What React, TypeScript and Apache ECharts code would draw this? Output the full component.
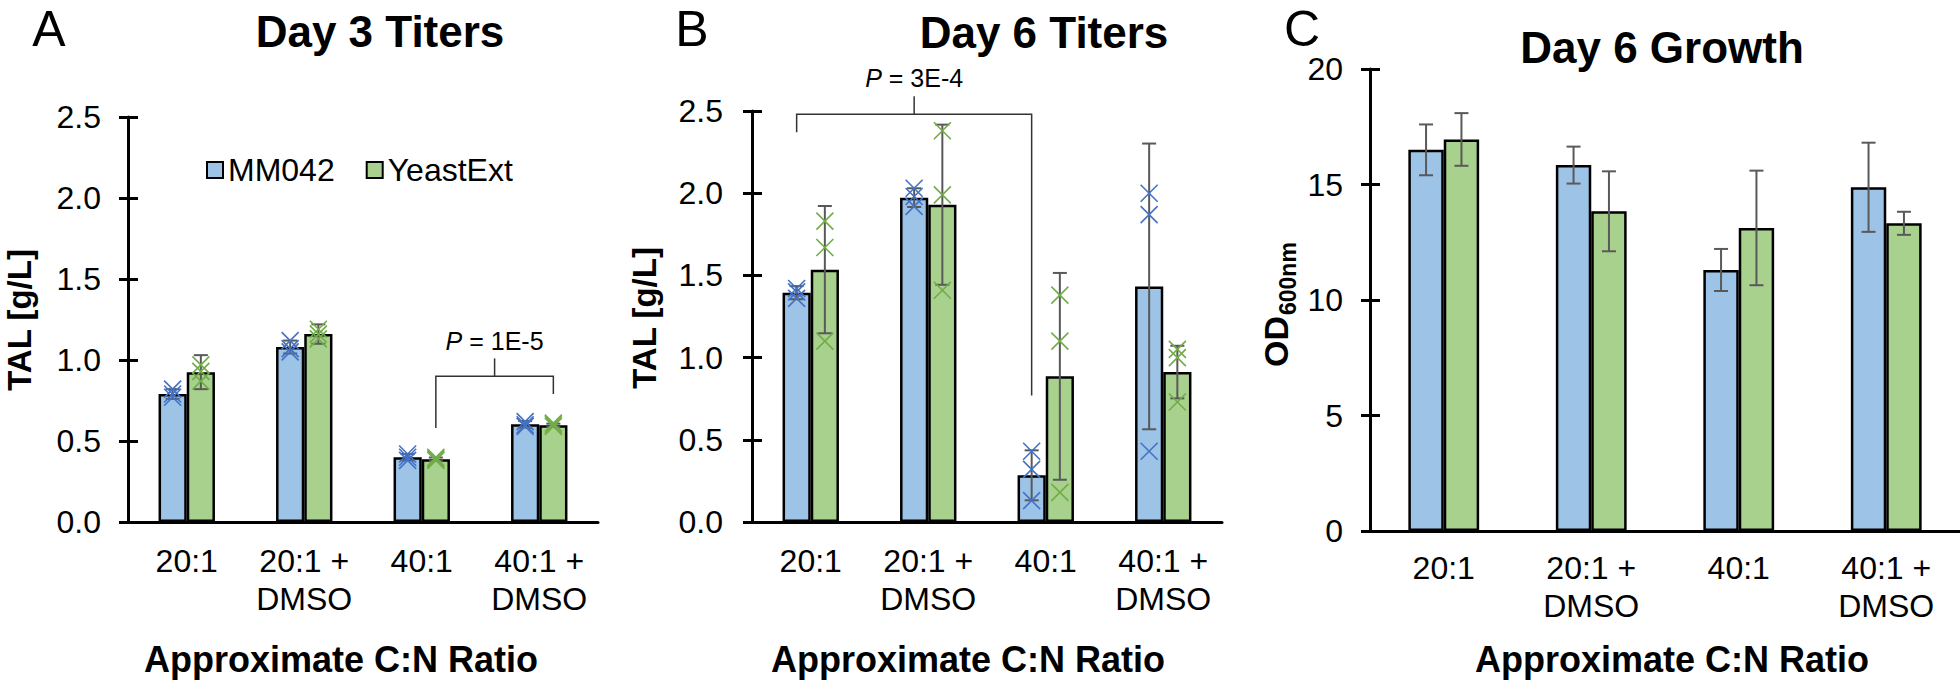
import React, { useEffect, useRef } from 'react';
import * as echarts from 'echarts';

const FONT = '"Liberation Sans", Arial, Helvetica, sans-serif';

const categories = ['20:1', '20:1 +\nDMSO', '40:1', '40:1 +\nDMSO'];
const seriesNames = ['MM042', 'YeastExt'];
const barColors = ['#9DC3E6', '#A9D18E'];
const markerColors = ['#4472C4', '#70AD47'];

// Panel A: Day 3 titers (g/L)
const day3MM042 = [0.79, 1.08, 0.40, 0.603];
const day3Yeast = [0.925, 1.16, 0.388, 0.597];
const day3MM042Err = [0.03, 0.04, 0.02, 0.02];
const day3YeastErr = [0.105, 0.06, 0.01, 0.01];
const day3MM042Pts = [[0.77, 0.79, 0.82], [1.05, 1.07, 1.12], [0.38, 0.40, 0.42], [0.59, 0.60, 0.62]];
const day3YeastPts = [[0.87, 0.93, 0.97], [1.13, 1.16, 1.19], [0.38, 0.39, 0.40], [0.59, 0.60, 0.61]];

// Panel B: Day 6 titers (g/L)
const day6MM042 = [1.395, 1.973, 0.284, 1.433];
const day6Yeast = [1.535, 1.93, 0.886, 0.912];
const day6MM042Err = [0.04, 0.057, 0.152, 0.869];
const day6YeastErr = [0.387, 0.487, 0.629, 0.16];
const day6MM042Pts = [[1.36, 1.40, 1.42], [1.92, 1.98, 2.03], [0.13, 0.32, 0.43], [0.43, 1.87, 2.00]];
const day6YeastPts = [[1.10, 1.67, 1.83], [1.41, 1.99, 2.38], [0.18, 1.10, 1.38], [0.73, 1.00, 1.05]];

// Panel C: Day 6 growth (OD600nm)
const growthMM042 = [16.5, 15.84, 11.3, 14.88];
const growthYeast = [16.95, 13.84, 13.12, 13.32];
const growthMM042Err = [1.1, 0.8, 0.91, 1.93];
const growthYeastErr = [1.14, 1.73, 2.48, 0.5];

// Significance brackets: [fromCategory, toCategory, barIndex, top, leftEnd, rightEnd, stemTop, labelY]
const day3Bracket = [2, 3, 1, 0.90, 0.58, 0.79, 1.01, 1.12];
const day3BracketLabel = '1E-5';
const day6Bracket = [0, 2, 0, 2.48, 2.37, 0.77, 2.59, 2.70];
const day6BracketLabel = '3E-4';

const titerTicks = [0, 2.5, 0.5];
const growthTicks = [0, 20, 5];

function barSide(s: number) {
  return s === 0 ? -1 : 1;
}

function errRender(side: number) {
  return (params: any, api: any) => {
    const i = api.value(0);
    const v = api.value(1);
    const e = api.value(2);
    const band = api.size([1, 0])[0];
    const x = api.coord([i, v])[0] + side * band * 0.12;
    const yTop = api.coord([i, v + e])[1];
    const yBot = api.coord([i, Math.max(v - e, 0)])[1];
    const cap = 7;
    const style = { stroke: '#595959', lineWidth: 2 };
    return {
      type: 'group',
      children: [
        { type: 'line', shape: { x1: x, y1: yTop, x2: x, y2: yBot }, style },
        { type: 'line', shape: { x1: x - cap, y1: yTop, x2: x + cap, y2: yTop }, style },
        { type: 'line', shape: { x1: x - cap, y1: yBot, x2: x + cap, y2: yBot }, style },
      ],
    };
  };
}

function markerRender(side: number, color: string) {
  return (params: any, api: any) => {
    const i = api.value(0);
    const v = api.value(1);
    const band = api.size([1, 0])[0];
    const p = api.coord([i, v]);
    const x = p[0] + side * band * 0.12;
    const y = p[1];
    const s = 8.5;
    const style = { stroke: color, lineWidth: 1.6 };
    return {
      type: 'group',
      children: [
        { type: 'line', shape: { x1: x - s, y1: y - s, x2: x + s, y2: y + s }, style },
        { type: 'line', shape: { x1: x - s, y1: y + s, x2: x + s, y2: y - s }, style },
      ],
    };
  };
}

function bracketRender(b: number[], label: string) {
  return (params: any, api: any) => {
    const [c1, c2, bi, top, leftEnd, rightEnd, stemTop, labelY] = b;
    const band = api.size([1, 0])[0];
    const side = barSide(bi);
    const x1 = api.coord([c1, top])[0] + side * band * 0.12;
    const x2 = api.coord([c2, top])[0] + side * band * 0.12;
    const yTop = api.coord([c1, top])[1];
    const yL = api.coord([c1, leftEnd])[1];
    const yR = api.coord([c1, rightEnd])[1];
    const yS = api.coord([c1, stemTop])[1];
    const yLab = api.coord([c1, labelY])[1];
    const xm = (x1 + x2) / 2;
    const style = { stroke: '#333333', lineWidth: 1.5, fill: null };
    return {
      type: 'group',
      children: [
        {
          type: 'polyline',
          shape: { points: [[x1, yL], [x1, yTop], [x2, yTop], [x2, yR]] },
          style,
        },
        { type: 'line', shape: { x1: xm, y1: yTop, x2: xm, y2: yS }, style },
        {
          type: 'text',
          x: xm,
          y: yLab,
          style: {
            text: '{i|P} = ' + label,
            rich: { i: { fontStyle: 'italic', fontSize: 25, fontFamily: FONT, fill: '#000' } },
            fontSize: 25,
            fontFamily: FONT,
            fill: '#000',
            align: 'center',
            verticalAlign: 'middle',
          },
        },
      ],
    };
  };
}

function buildOption() {
  const grids = [
    { left: 128, top: 117, width: 470, height: 405 },
    { left: 752, top: 111, width: 470, height: 411 },
    { left: 1370, top: 69, width: 590, height: 462 },
  ];
  const yRanges = [titerTicks, titerTicks, growthTicks];
  const labelMargins = [27, 29, 27];
  const catMargins = [20, 20, 18];

  const xAxis = grids.map((g, gi) => ({
    type: 'category',
    gridIndex: gi,
    data: categories,
    axisLine: { lineStyle: { color: '#000', width: 3 } },
    axisTick: { show: false },
    axisLabel: {
      fontSize: 32,
      fontFamily: FONT,
      color: '#000',
      lineHeight: 38,
      margin: catMargins[gi],
      interval: 0,
    },
    z: 5,
  }));

  const yAxis: any[] = [];
  grids.forEach((g, gi) => {
    const [mn, mx, step] = yRanges[gi];
    const fmt = gi < 2 ? (v: number) => v.toFixed(1) : (v: number) => String(v);
    yAxis.push({
      type: 'value',
      gridIndex: gi,
      min: mn,
      max: mx,
      interval: step,
      position: 'left',
      axisLine: { show: true, lineStyle: { color: '#000', width: 3 } },
      axisTick: { show: true, inside: false, length: 9, lineStyle: { color: '#000', width: 3 } },
      axisLabel: { fontSize: 32, fontFamily: FONT, color: '#000', margin: labelMargins[gi], formatter: fmt },
      splitLine: { show: false },
      z: 5,
    });
    yAxis.push({
      type: 'value',
      gridIndex: gi,
      min: mn,
      max: mx,
      interval: step,
      position: 'left',
      axisLine: { show: false },
      axisTick: { show: true, inside: true, length: 10, lineStyle: { color: '#000', width: 3 } },
      axisLabel: { show: false },
      splitLine: { show: false },
      z: 5,
    });
  });

  const panels = [
    { mm: day3MM042, ye: day3Yeast, mmE: day3MM042Err, yeE: day3YeastErr, mmP: day3MM042Pts, yeP: day3YeastPts, br: day3Bracket, brL: day3BracketLabel },
    { mm: day6MM042, ye: day6Yeast, mmE: day6MM042Err, yeE: day6YeastErr, mmP: day6MM042Pts, yeP: day6YeastPts, br: day6Bracket, brL: day6BracketLabel },
    { mm: growthMM042, ye: growthYeast, mmE: growthMM042Err, yeE: growthYeastErr, mmP: null, yeP: null, br: null, brL: '' },
  ];

  const series: any[] = [];
  panels.forEach((p, gi) => {
    const vals = [p.mm, p.ye];
    const errs = [p.mmE, p.yeE];
    const pts = [p.mmP, p.yeP];
    [0, 1].forEach((s) => {
      series.push({
        type: 'bar',
        name: seriesNames[s],
        xAxisIndex: gi,
        yAxisIndex: gi * 2,
        data: vals[s],
        barGap: '0%',
        barCategoryGap: '52%',
        itemStyle: { color: barColors[s], borderColor: '#000', borderWidth: 2.5 },
        z: 2,
      });
    });
    [0, 1].forEach((s) => {
      series.push({
        type: 'custom',
        xAxisIndex: gi,
        yAxisIndex: gi * 2,
        data: vals[s].map((v, i) => [i, v, errs[s][i]]),
        encode: { x: 0, y: 1 },
        renderItem: errRender(barSide(s)),
        clip: false,
        z: 3,
        silent: true,
      });
    });
    [0, 1].forEach((s) => {
      const ps = pts[s];
      if (!ps) return;
      series.push({
        type: 'custom',
        xAxisIndex: gi,
        yAxisIndex: gi * 2,
        data: ps.flatMap((arr, i) => arr.map((v) => [i, v])),
        encode: { x: 0, y: 1 },
        renderItem: markerRender(barSide(s), markerColors[s]),
        clip: false,
        z: 4,
        silent: true,
      });
    });
    if (p.br) {
      series.push({
        type: 'custom',
        xAxisIndex: gi,
        yAxisIndex: gi * 2,
        data: [[0, 0]],
        encode: { x: 0, y: 1 },
        renderItem: bracketRender(p.br, p.brL),
        clip: false,
        z: 4,
        silent: true,
      });
    }
  });

  const txt = (text: string, x: number, y: number, size: number, bold: boolean, rotation = 0) => ({
    type: 'text',
    x,
    y,
    rotation,
    style: {
      text,
      fontSize: size,
      fontWeight: bold ? 'bold' : 'normal',
      fontFamily: FONT,
      fill: '#000',
      align: 'center',
      verticalAlign: 'middle',
    },
  });

  const graphic: any[] = [
    txt('A', 49, 29, 50, false),
    txt('B', 692, 29, 50, false),
    txt('C', 1302, 29, 50, false),
    txt('Day 3 Titers', 380, 31, 44, true),
    txt('Day 6 Titers', 1044, 32, 44, true),
    txt('Day 6 Growth', 1662, 47, 44, true),
    txt('Approximate C:N Ratio', 341, 659, 36, true),
    txt('Approximate C:N Ratio', 968, 659, 36, true),
    txt('Approximate C:N Ratio', 1672, 659, 36, true),
    txt('TAL [g/L]', 19, 320, 33, true, Math.PI / 2),
    txt('TAL [g/L]', 644, 318, 33, true, Math.PI / 2),
    {
      type: 'group',
      x: 1276,
      y: 305,
      rotation: Math.PI / 2,
      children: [
        {
          type: 'text',
          x: -62,
          y: 0,
          style: { text: 'OD', fontSize: 34, fontWeight: 'bold', fontFamily: FONT, fill: '#000', align: 'left', verticalAlign: 'middle' },
        },
        {
          type: 'text',
          x: -10,
          y: 12,
          style: { text: '600nm', fontSize: 23, fontWeight: 'bold', fontFamily: FONT, fill: '#000', align: 'left', verticalAlign: 'middle' },
        },
      ],
    },
  ];

  return {
    animation: false,
    backgroundColor: '#ffffff',
    grid: grids.map((g) => ({ ...g, containLabel: false })),
    xAxis,
    yAxis,
    legend: {
      data: seriesNames,
      left: 206,
      top: 154,
      padding: 0,
      itemWidth: 16,
      itemHeight: 16,
      itemGap: 31,
      icon: 'rect',
      selectedMode: false,
      itemStyle: { borderColor: '#000', borderWidth: 2 },
      textStyle: { fontSize: 32, fontFamily: FONT, color: '#000' },
    },
    series,
    graphic,
  };
}

export default function App() {
  const ref = useRef<HTMLDivElement>(null);
  useEffect(() => {
    document.body.style.margin = '0';
    const chart = echarts.init(ref.current as HTMLDivElement, null, { renderer: 'svg' });
    chart.setOption(buildOption() as any);
    return () => chart.dispose();
  }, []);
  return (
    <div
      ref={ref}
      style={{ position: 'fixed', left: 0, top: 0, width: 1960, height: 680, background: '#fff' }}
    />
  );
}
